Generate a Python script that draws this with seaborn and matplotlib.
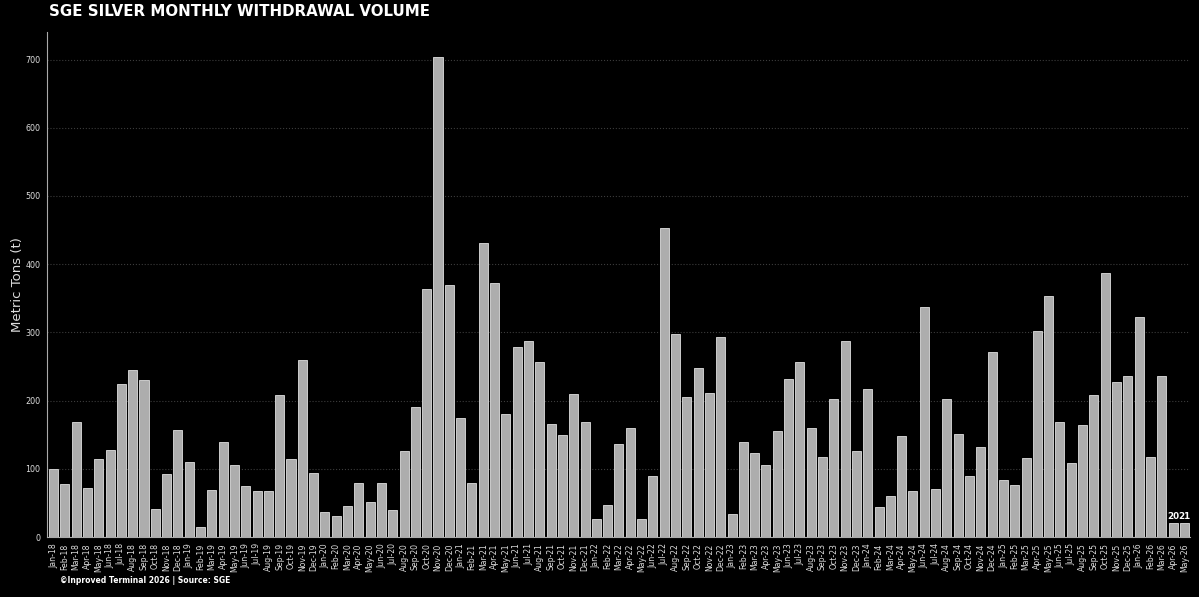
import pandas as pd
import numpy as np
import matplotlib
matplotlib.use('Agg')
import matplotlib.pyplot as plt
import seaborn as sns

# monthly labels Jan-18 .. May-26
months = ['Jan', 'Feb', 'Mar', 'Apr', 'May', 'Jun', 'Jul', 'Aug', 'Sep', 'Oct', 'Nov', 'Dec']
years = ['18', '19', '20', '21', '22', '23', '24', '25', '26']
labels = [m + '-' + y for y in years for m in months][:101]

# withdrawal volume, metric tons
volume = [
    100, 77, 168, 72, 114, 127, 224, 245, 230, 41, 92, 157,     # 2018
    110, 15, 69, 139, 106, 75, 68, 68, 208, 115, 259, 94,       # 2019
    36, 31, 46, 79, 52, 79, 40, 126, 190, 363, 703, 370,        # 2020
    174, 79, 431, 373, 180, 278, 287, 256, 166, 150, 209, 169,  # 2021
    26, 47, 136, 160, 26, 89, 453, 297, 205, 248, 211, 293,     # 2022
    33, 139, 123, 106, 156, 231, 256, 160, 117, 202, 288, 126,  # 2023
    217, 44, 60, 148, 67, 337, 70, 202, 151, 89, 132, 271,      # 2024
    84, 76, 116, 302, 354, 168, 108, 164, 208, 387, 227, 236,   # 2025
    322, 117, 236, 20, 21,                                      # 2026
]

df = pd.DataFrame({'month': labels, 'tons': volume})

sns.set_style('dark')
plt.rcParams['font.family'] = ['DejaVu Sans']

fig = plt.figure(figsize=(11.99, 5.97), dpi=100, facecolor='black')
ax = fig.add_axes([0.039, 0.1005, 0.9535, 0.8455])
ax.set_facecolor('black')

sns.barplot(data=df, x='month', y='tons', color='#adadad', saturation=1,
            edgecolor='#cccccc', linewidth=0.7, width=0.8, ax=ax)

ax.set_xlim(-0.6, 100.5)
ax.set_ylim(0, 740)
ax.set_yticks(range(0, 800, 100))
ax.yaxis.grid(True, linestyle=':', color='#3c3c3c', linewidth=0.8)
ax.xaxis.grid(False)
ax.set_axisbelow(True)

for s in ['top', 'right']:
    ax.spines[s].set_visible(False)
for s in ['left', 'bottom']:
    ax.spines[s].set_visible(True)
    ax.spines[s].set_color('#aaaaaa')
    ax.spines[s].set_linewidth(0.8)

ax.tick_params(axis='x', rotation=90, labelsize=5.6, colors='#dddddd', length=2.5, pad=2)
ax.tick_params(axis='y', labelsize=5.8, colors='#dddddd', length=2.5, pad=2)
ax.set_xlabel('')
ax.set_ylabel('Metric Tons (t)', color='#dddddd', fontsize=9.5, labelpad=1)

# value labels on the last two months
for i in [99, 100]:
    ax.text(i, volume[i] + 3, str(volume[i]), ha='center', va='bottom',
            color='white', fontsize=6.3, fontweight='bold')

fig.text(0.041, 0.98, 'SGE SILVER MONTHLY WITHDRAWAL VOLUME', color='white',
         fontsize=10.8, fontweight='bold', ha='left', va='center')
fig.text(0.05, 0.027, '©Inproved Terminal 2026 | Source: SGE', color='white',
         fontsize=5.5, fontweight='bold', ha='left', va='center')

fig.savefig('out.png', dpi=100, facecolor='black')
